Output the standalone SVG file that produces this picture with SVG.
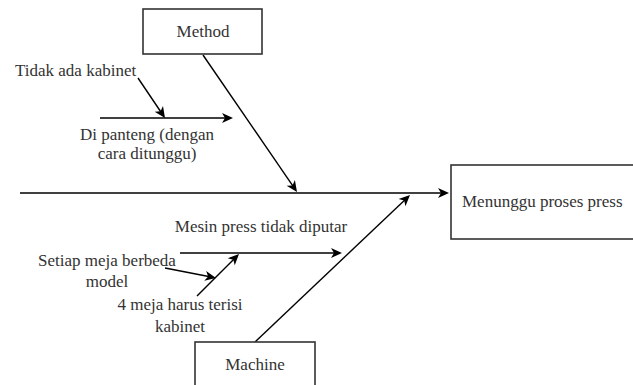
<svg xmlns="http://www.w3.org/2000/svg" width="633" height="385" viewBox="0 0 633 385">
<defs>
<style>
.box{fill:#fff;stroke:#333;stroke-width:1.6}
.ln{stroke:#000;stroke-width:1.4;fill:none}
.hd{fill:#000}
text{font-family:'Times New Roman','Liberation Serif',serif;font-size:17px;fill:#333}
</style>
<path id="ah" d="M0,0 L-11,-5 L-8,0 L-11,5 z"/>
</defs>
<g id="connectors">
<line class="ln" x1="20" y1="193" x2="443" y2="193"/>
<use class="hd" href="#ah" transform="translate(449,193)"/>
<line class="ln" x1="203" y1="55" x2="293.5" y2="186.9"/>
<use class="hd" href="#ah" transform="translate(297,192) rotate(55.5)"/>
<line class="ln" x1="255" y1="342" x2="405.6" y2="199.2"/>
<use class="hd" href="#ah" transform="translate(410,195) rotate(-43.5)"/>
<line class="ln" x1="100" y1="118" x2="227" y2="118"/>
<use class="hd" href="#ah" transform="translate(233,118)"/>
<line class="ln" x1="138" y1="78" x2="161.6" y2="113"/>
<use class="hd" href="#ah" transform="translate(165,118) rotate(56)"/>
<line class="ln" x1="180" y1="253" x2="336" y2="253"/>
<use class="hd" href="#ah" transform="translate(342,253)"/>
<line class="ln" x1="165" y1="268" x2="210" y2="276.8"/>
<use class="hd" href="#ah" transform="translate(216,278) rotate(11.1)"/>
<line class="ln" x1="197" y1="296" x2="234.8" y2="258.2"/>
<use class="hd" href="#ah" transform="translate(239,254) rotate(-45)"/>
</g>
<g id="method">
<rect class="box" x="143" y="9" width="119" height="45"/>
<text font-family="Times New Roman, serif" text-anchor="middle" x="203" y="37">Method</text>
</g>
<g id="machine">
<rect class="box" x="195" y="342" width="120" height="55"/>
<text font-family="Times New Roman, serif" text-anchor="middle" x="255" y="370">Machine</text>
</g>
<g id="effect">
<rect class="box" x="451" y="165" width="200" height="74"/>
<text font-family="Times New Roman, serif" x="462" y="207">Menunggu proses press</text>
</g>
<g id="cause-tidak-ada-kabinet">
<text font-family="Times New Roman, serif" x="15" y="76">Tidak ada kabinet</text>
</g>
<g id="cause-di-panteng">
<text font-family="Times New Roman, serif" text-anchor="middle" x="147" y="140">Di panteng (dengan</text>
<text font-family="Times New Roman, serif" text-anchor="middle" x="147" y="159">cara ditunggu)</text>
</g>
<g id="cause-mesin-press">
<text font-family="Times New Roman, serif" text-anchor="middle" x="261" y="232">Mesin press tidak diputar</text>
</g>
<g id="cause-setiap-meja">
<text font-family="Times New Roman, serif" text-anchor="middle" x="107" y="266">Setiap meja berbeda</text>
<text font-family="Times New Roman, serif" text-anchor="middle" x="107" y="287">model</text>
</g>
<g id="cause-4-meja">
<text font-family="Times New Roman, serif" text-anchor="middle" x="180" y="310">4 meja harus terisi</text>
<text font-family="Times New Roman, serif" text-anchor="middle" x="180" y="332">kabinet</text>
</g>
</svg>
